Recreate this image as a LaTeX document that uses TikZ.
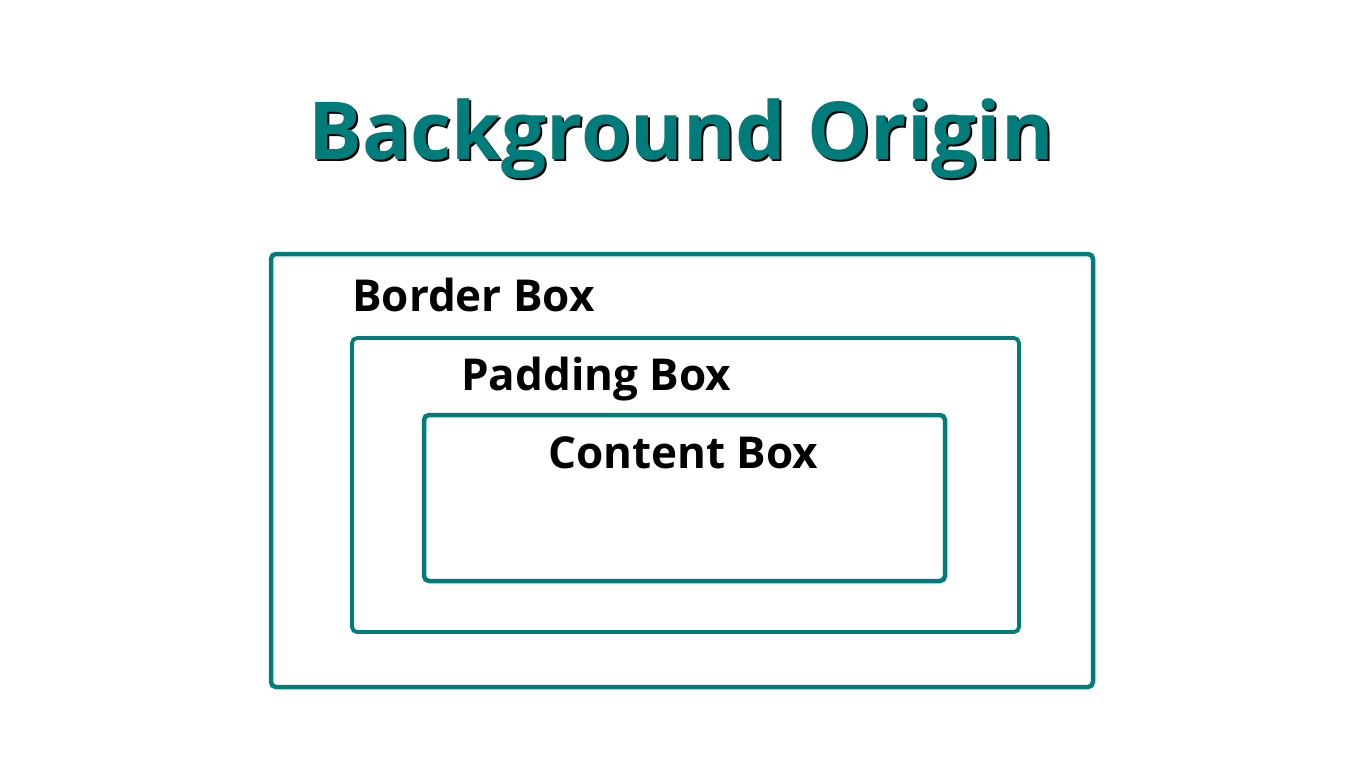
\documentclass[tikz,border=0pt]{standalone}
\usepackage{fontspec}
\setmainfont{Open Sans}
\definecolor{teal1}{HTML}{007D7A}
\begin{document}
\begin{tikzpicture}[x=1pt,y=-1pt,
  frame/.style={draw=teal1,rounded corners=5pt,line width=4.5pt},
  lab/.style={anchor=base west,inner sep=0pt,font=\fontsize{44}{48}\selectfont\bfseries},
  ttl/.style={anchor=base,inner sep=0pt,font=\fontsize{80}{86}\selectfont\bfseries}]
\useasboundingbox (0,0) rectangle (1366,768);
\fill[white] (0,0) rectangle (1366,768);
\node[ttl,text=black] (ts) at (683,161) {Background Origin};
\node[ttl,text=teal1] (title) at (681,159) {Background Origin};
\draw[frame] (271,254) rectangle (1093,687);
\draw[frame,line width=3.8pt] (352,338) rectangle (1019,632);
\draw[frame] (424,415) rectangle (945,581);
\node[lab] (b) at (352,311) {Border Box};
\node[lab] (p) at (461,390) {Padding Box};
\node[lab] (c) at (548,468) {Content Box};
\end{tikzpicture}
\end{document}
